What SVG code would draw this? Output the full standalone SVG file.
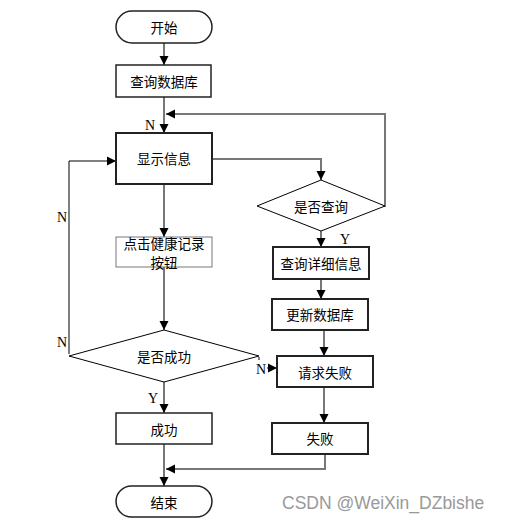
<svg xmlns="http://www.w3.org/2000/svg" width="507" height="520" viewBox="0 0 507 520">
<style>
.box{fill:#fff;stroke:#222;stroke-width:1.5}
.thick{stroke-width:2}
.thin{stroke:#777;stroke-width:1}
.dia{fill:#fff;stroke:#000;stroke-width:1}
.t{font-family:"Noto Sans CJK SC","Noto Sans",sans-serif;font-size:13.5px;fill:#000;text-anchor:middle;dominant-baseline:central}
.lab{font-family:"Liberation Serif",serif;font-size:14px;fill:#000;text-anchor:middle;dominant-baseline:central}
.c{fill:none;stroke:#777;stroke-width:2}
.cb{fill:none;stroke:#000;stroke-width:1}
</style>
<defs>
<marker id="ah" markerUnits="userSpaceOnUse" markerWidth="10" markerHeight="10" refX="9" refY="5" orient="auto">
<path d="M0,0.5 L9,5 L0,9.5 Z" fill="#000"/>
</marker>
</defs>
<rect width="507" height="520" fill="#fff"/>
<g id="connectors">
<path class="c" d="M164,43 V65" marker-end="url(#ah)"/>
<path class="c" d="M164,97 V133" marker-end="url(#ah)"/>
<path class="c" d="M385,207 V114 H166" marker-end="url(#ah)"/>
<path class="c" d="M212,159 H321 V180" marker-end="url(#ah)"/>
<path class="c" d="M321,231 V247" marker-end="url(#ah)"/>
<path class="c" d="M321,279 V299" marker-end="url(#ah)"/>
<path class="c" d="M324,330 V356" marker-end="url(#ah)"/>
<path class="c" d="M324,387 V423" marker-end="url(#ah)"/>
<path class="c" d="M325,454 V469 H166" marker-end="url(#ah)"/>
<path class="c" d="M164,184 V237" marker-end="url(#ah)"/>
<path class="c" d="M164,267 V330" marker-end="url(#ah)"/>
<path class="cb" d="M69,354 V161 H116" marker-end="url(#ah)"/>
<path class="cb" d="M259,357 V368 H277" marker-end="url(#ah)"/>
<path class="c" d="M164,382 V413" marker-end="url(#ah)"/>
<path class="c" d="M164,444 V486" marker-end="url(#ah)"/>
<rect x="253" y="360" width="14" height="16" fill="#fff"/>
<text class="lab" x="150" y="125">N</text>
<text class="lab" x="62" y="217">N</text>
<text class="lab" x="62" y="342">N</text>
<rect x="339" y="232" width="12" height="13" fill="#fff"/>
<text class="lab" x="345" y="239">Y</text>
<text class="lab" x="261" y="369">N</text>
<text class="lab" x="153" y="398">Y</text>
</g>
<g id="start">
<rect class="box" x="116" y="11" width="96" height="32" rx="16"/>
<text class="t" x="164" y="27">开始</text>
</g>
<g id="query-db">
<rect class="box" x="116" y="65" width="95" height="32"/>
<text class="t" x="164" y="81">查询数据库</text>
</g>
<g id="show-info">
<rect class="box thick" x="116" y="133" width="96" height="51"/>
<text class="t" x="164" y="158">显示信息</text>
</g>
<g id="is-query">
<polygon class="dia" points="321,180 385,206 321,231 257,206"/>
<text class="t" x="321" y="206">是否查询</text>
</g>
<g id="query-detail">
<rect class="box thick" x="273" y="247" width="96" height="32"/>
<text class="t" x="321" y="263">查询详细信息</text>
</g>
<g id="update-db">
<rect class="box thick" x="272" y="299" width="96" height="31"/>
<text class="t" x="320" y="314">更新数据库</text>
</g>
<g id="request-fail">
<rect class="box thick" x="277" y="356" width="96" height="31"/>
<text class="t" x="325" y="372">请求失败</text>
</g>
<g id="fail">
<rect class="box thick" x="272" y="423" width="96" height="31"/>
<text class="t" x="320" y="438">失败</text>
</g>
<g id="click-btn">
<rect class="box thin" x="116" y="237" width="96" height="30"/>
<text class="t" x="164" y="243">点击健康记录</text>
<text class="t" x="164" y="262">按钮</text>
</g>
<g id="is-success">
<polygon class="dia" points="164,330 259,356 164,382 69,356"/>
<text class="t" x="164" y="356">是否成功</text>
</g>
<g id="success">
<rect class="box" x="116" y="413" width="96" height="31"/>
<text class="t" x="164" y="429">成功</text>
</g>
<g id="end">
<rect class="box" x="116" y="486" width="96" height="31" rx="15.5"/>
<text class="t" x="164" y="502">结束</text>
</g>
<text x="282" y="509" font-family="Liberation Sans,Arial,sans-serif" font-size="17.5" fill="#999">CSDN @WeiXin_DZbishe</text>
</svg>
